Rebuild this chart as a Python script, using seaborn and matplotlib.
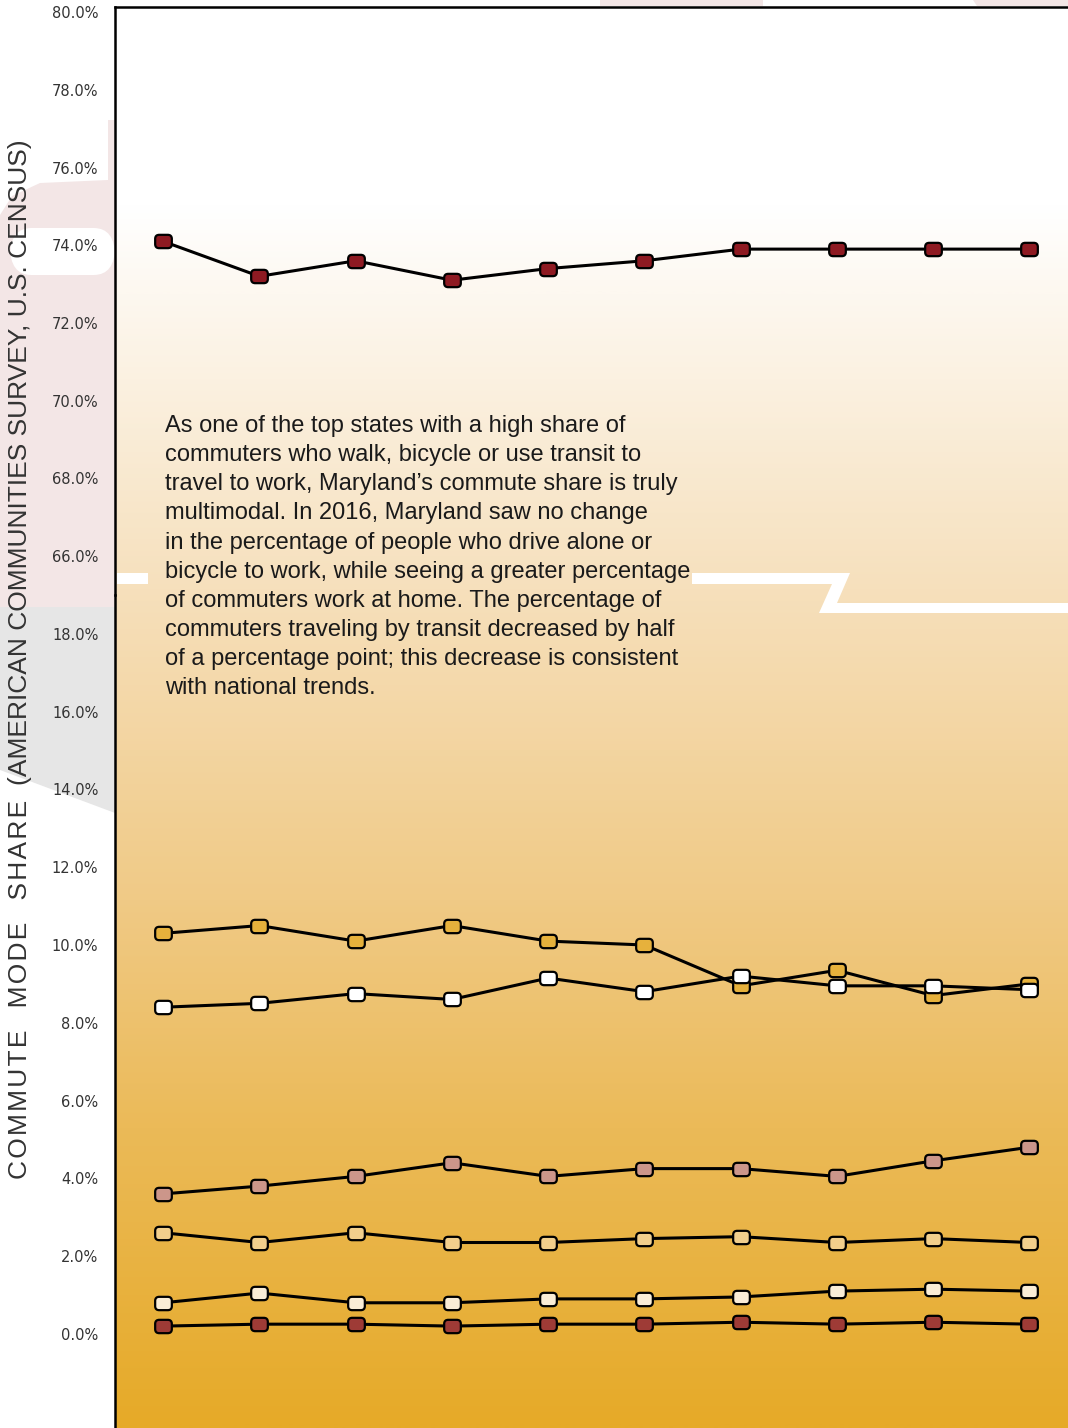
import numpy as np
import pandas as pd
import matplotlib
matplotlib.use("Agg")
import matplotlib.pyplot as plt
from matplotlib.path import Path
from matplotlib.patches import Polygon, FancyBboxPatch
from matplotlib.colors import LinearSegmentedColormap
import seaborn as sns

# ---- data: commute mode share in Maryland (%) ----
years = [2007, 2008, 2009, 2010, 2011, 2012, 2013, 2014, 2015, 2016]
drive_alone = [74.1, 73.2, 73.6, 73.1, 73.4, 73.6, 73.9, 73.9, 73.9, 73.9]
carpool = [10.3, 10.5, 10.1, 10.5, 10.1, 10.0, 8.95, 9.35, 8.7, 9.0]
transit = [8.4, 8.5, 8.75, 8.6, 9.15, 8.8, 9.2, 8.95, 8.95, 8.85]
work_at_home = [3.6, 3.8, 4.05, 4.4, 4.05, 4.25, 4.25, 4.05, 4.45, 4.8]
walk = [2.6, 2.35, 2.6, 2.35, 2.35, 2.45, 2.5, 2.35, 2.45, 2.35]
other = [0.8, 1.05, 0.8, 0.8, 0.9, 0.9, 0.95, 1.1, 1.15, 1.1]
bicycle = [0.2, 0.25, 0.25, 0.2, 0.25, 0.25, 0.3, 0.25, 0.3, 0.25]

upper_ticks = [66, 68, 70, 72, 74, 76, 78, 80]
lower_ticks = [0, 2, 4, 6, 8, 10, 12, 14, 16, 18]

note = ("As one of the top states with a high share of\n"
        "commuters who walk, bicycle or use transit to\n"
        "travel to work, Maryland\u2019s commute share is truly\n"
        "multimodal. In 2016, Maryland saw no change\n"
        "in the percentage of people who drive alone or\n"
        "bicycle to work, while seeing a greater percentage\n"
        "of commuters work at home. The percentage of\n"
        "commuters traveling by transit decreased by half\n"
        "of a percentage point; this decrease is consistent\n"
        "with national trends.")

# letter-spaced lead-in followed by the source note
HS = "\u200a"
lead = "   ".join(HS.join(word) for word in ["COMMUTE", "MODE", "SHARE"])
ylabel = lead + "  (AMERICAN COMMUNITIES SURVEY, U.S. CENSUS)"

W, H = 1068, 1428
sns.set_theme(style="white")
plt.rcParams["font.family"] = ["DejaVu Sans"]
text_family = ["Liberation Sans Narrow", "Liberation Sans", "DejaVu Sans"]

fig = plt.figure(figsize=(W / 100, H / 100), dpi=100)
fig.patch.set_facecolor("white")


def fx(px):
    return px / W


def fy(py):
    return 1 - py / H


def poly(points, color, z=0.5):
    p = Polygon([(fx(x), fy(y)) for x, y in points], closed=True,
                transform=fig.transFigure, facecolor=color, edgecolor="none",
                zorder=z)
    fig.patches.append(p)


# rounded-rectangle marker
def rounded_rect(w=1.25, h=1.0, r=0.3):
    a, b = w / 2, h / 2
    verts = [(-a + r, -b), (a - r, -b), (a, -b), (a, -b + r),
             (a, b - r), (a, b), (a - r, b),
             (-a + r, b), (-a, b), (-a, b - r),
             (-a, -b + r), (-a, -b), (-a + r, -b), (-a + r, -b)]
    codes = [Path.MOVETO, Path.LINETO, Path.CURVE3, Path.CURVE3,
             Path.LINETO, Path.CURVE3, Path.CURVE3,
             Path.LINETO, Path.CURVE3, Path.CURVE3,
             Path.LINETO, Path.CURVE3, Path.CURVE3, Path.CLOSEPOLY]
    return Path(verts, codes)


rrect = rounded_rect()

left = 115 / W
top_px = 7
split_px = 595

# background gradient panel
bg = fig.add_axes([left, 0, 1 - left, fy(top_px)], zorder=0)
stops = [(0.0, "#E6AA28"), (0.21, "#EBBA58"), (0.372, "#F0CA86"),
         (0.583, "#F6DFBA"), (0.80, "#FDF8F0"), (0.86, "#FFFFFF"),
         (1.0, "#FFFFFF")]
cmap = LinearSegmentedColormap.from_list("bgfade", stops)
grad = np.linspace(1, 0, 512).reshape(-1, 1)
bg.imshow(grad, cmap=cmap, aspect="auto", extent=[0, 1, 0, 1],
          vmin=0, vmax=1, interpolation="bilinear")
bg.set_axis_off()

# decorative artwork in the margins
pink = "#F3E6E6"
poly([(108, 120), (115, 120), (115, 607), (0, 607), (0, 215),
      (12, 196), (40, 183), (108, 180)], pink)
fig.patches.append(FancyBboxPatch((fx(10), fy(275)), fx(105), fy(228) - fy(275),
                                  boxstyle="round,pad=0,rounding_size=0.02",
                                  transform=fig.transFigure, facecolor="white",
                                  edgecolor="none", zorder=0.6))
poly([(0, 607), (115, 607), (115, 813), (0, 770)], "#E6E6E6")
poly([(600, 0), (763, 0), (763, 6), (600, 6)], pink)
poly([(973, 0), (1068, 0), (1068, 6), (977, 6)], pink)

# white zig-zag band across the panel
poly([(117, 573), (148, 573), (148, 584), (117, 584)], "white", z=0.7)
poly([(692, 573), (850, 573), (837, 603), (1068, 603), (1068, 613),
      (819, 613), (832, 584), (692, 584)], "white", z=0.7)

# two stacked panels forming a broken y axis
ax_top = fig.add_axes([left, fy(split_px), 1 - left, fy(top_px) - fy(split_px)],
                      zorder=1)
ax_bot = fig.add_axes([left, 0, 1 - left, fy(split_px)], zorder=1)
for ax in (ax_top, ax_bot):
    ax.set_facecolor("none")
    ax.set_xlim(-0.5, 9.4)
    ax.set_xticks([])
    for s in ax.spines.values():
        s.set_visible(False)
    ax.spines["left"].set_visible(True)
    ax.spines["left"].set_color("black")
    ax.spines["left"].set_linewidth(1.8)
    ax.tick_params(axis="y", length=0, pad=12, labelsize=10.5,
                   labelcolor="#333333")
ax_top.spines["top"].set_visible(True)
ax_top.spines["top"].set_color("black")
ax_top.spines["top"].set_linewidth(1.8)

ax_top.set_ylim(65, 80.13)
ax_bot.set_ylim(-2.42, 19.0)
ax_top.set_yticks(upper_ticks)
ax_top.set_yticklabels([f"{t:.1f}%" for t in upper_ticks])
ax_bot.set_yticks(lower_ticks)
ax_bot.set_yticklabels([f"{t:.1f}%" for t in lower_ticks])

xi = np.arange(len(years))
line_kw = dict(color="black", linewidth=2.2, marker=rrect, markersize=12,
               markeredgecolor="black", markeredgewidth=1.6)

series = [
    (ax_top, drive_alone, "#8E1A22"),
    (ax_bot, carpool, "#E6B13C"),
    (ax_bot, transit, "#FFFFFF"),
    (ax_bot, work_at_home, "#CC968A"),
    (ax_bot, walk, "#F2CF8C"),
    (ax_bot, other, "#FAEDD6"),
    (ax_bot, bicycle, "#9E3B36"),
]
for ax, vals, fc in series:
    df = pd.DataFrame({"x": xi, "share": vals})
    sns.lineplot(data=df, x="x", y="share", ax=ax, markerfacecolor=fc,
                 **line_kw)
    ax.set_xlabel("")
    ax.set_ylabel("")

# explanatory note
fig.text(fx(165), fy(415), note, ha="left", va="top", fontsize=17,
         family=text_family, color="#1a1a1a", linespacing=1.42, zorder=3)

# rotated axis title
fig.text(fx(20), fy(659), ylabel, rotation=90, ha="center", va="center",
         fontsize=19, family=text_family, color="#333333", zorder=3)

fig.savefig("out.png", dpi=100, facecolor="white")
